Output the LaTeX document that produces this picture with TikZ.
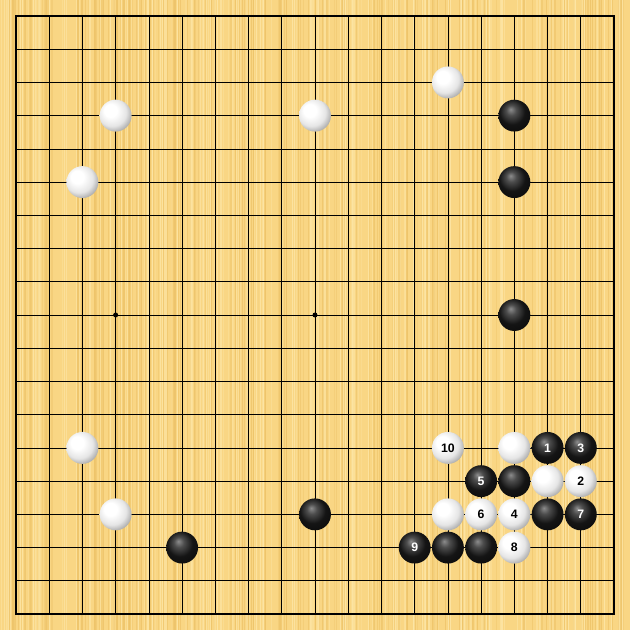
\documentclass[tikz,border=0pt]{standalone}
\usepackage{fontspec}
\setsansfont{Liberation Sans}
\definecolor{board}{RGB}{249,214,132}
\definecolor{boardlight}{RGB}{253,230,166}
\definecolor{boarddark}{RGB}{238,196,106}
\pgfdeclareradialshading{wball}{\pgfpoint{-10bp}{10bp}}{color(0bp)=(white); color(10bp)=(white); color(22bp)=(black!10); color(32bp)=(black!38); color(50bp)=(black!55)}
\pgfdeclareradialshading{bball}{\pgfpoint{-6bp}{10bp}}{color(0bp)=(black!45); color(8bp)=(black!70); color(20bp)=(black!92); color(50bp)=(black)}
\begin{document}
\begin{tikzpicture}[x=1cm,y=-1cm]
	\tikzstyle{bstone}=[circle,inner sep=0pt,minimum size=0.96cm,shading=bball,text=white,font=\sffamily\bfseries\fontsize{10.5}{10.5}\selectfont]
	\tikzstyle{wstone}=[circle,inner sep=0pt,minimum size=0.96cm,shading=wball,text=black,font=\sffamily\bfseries\fontsize{10.5}{10.5}\selectfont]
	\tikzstyle{gridline}=[draw=black, line width=0.6pt]
	\tikzstyle{hoshi}=[circle,fill=black,inner sep=0pt,minimum size=1.5mm]

	% board
	\fill[board] (-0.48,-0.48) rectangle (18.48,18.48);
	\pgfmathsetseed{11}
	\foreach \i in {1,...,420} {
		\pgfmathsetmacro{\xx}{rnd*18.9-0.48}
		\pgfmathsetmacro{\ww}{0.015+rnd*0.03}
		\pgfmathsetmacro{\op}{0.3+rnd*0.6}
		\ifodd\i
			\fill[boardlight,opacity=\op] (\xx,-0.48) rectangle ++(\ww,18.96);
		\else
			\fill[boarddark,opacity=\op] (\xx,-0.48) rectangle ++(\ww,18.96);
		\fi
	}
	\useasboundingbox (-0.48,-0.48) rectangle (18.48,18.48);

	% grid
	\foreach \i in {1,...,17} {
		\draw[gridline] (\i,0) -- (\i,18);
		\draw[gridline] (0,\i) -- (18,\i);
	}
	\draw[gridline, line width=1.1pt] (0,0) rectangle (18,18);
	\foreach \x in {3,9,15}
		\foreach \y in {3,9,15}
			\node[hoshi] (h\x\y) at (\x,\y) {};

	% white stones
	\node [wstone] (w1) at (13,2) {};
	\node [wstone] (w2) at (3,3) {};
	\node [wstone] (w3) at (9,3) {};
	\node [wstone] (w4) at (2,5) {};
	\node [wstone] (w5) at (2,13) {};
	\node [wstone] (w6) at (3,15) {};
	\node [wstone] (w7) at (15,13) {};
	\node [wstone] (w8) at (16,14) {};
	\node [wstone] (w9) at (13,15) {};
	\node [wstone] (m2) at (17,14) {2};
	\node [wstone] (m4) at (15,15) {4};
	\node [wstone] (m6) at (14,15) {6};
	\node [wstone] (m8) at (15,16) {8};
	\node [wstone] (m10) at (13,13) {10};

	% black stones
	\node [bstone] (b1) at (15,3) {};
	\node [bstone] (b2) at (15,5) {};
	\node [bstone] (b3) at (15,9) {};
	\node [bstone] (b4) at (15,14) {};
	\node [bstone] (b5) at (16,15) {};
	\node [bstone] (b6) at (9,15) {};
	\node [bstone] (b7) at (5,16) {};
	\node [bstone] (b8) at (13,16) {};
	\node [bstone] (b9) at (14,16) {};
	\node [bstone] (m1) at (16,13) {1};
	\node [bstone] (m3) at (17,13) {3};
	\node [bstone] (m5) at (14,14) {5};
	\node [bstone] (m7) at (17,15) {7};
	\node [bstone] (m9) at (12,16) {9};

\end{tikzpicture}
\end{document}
